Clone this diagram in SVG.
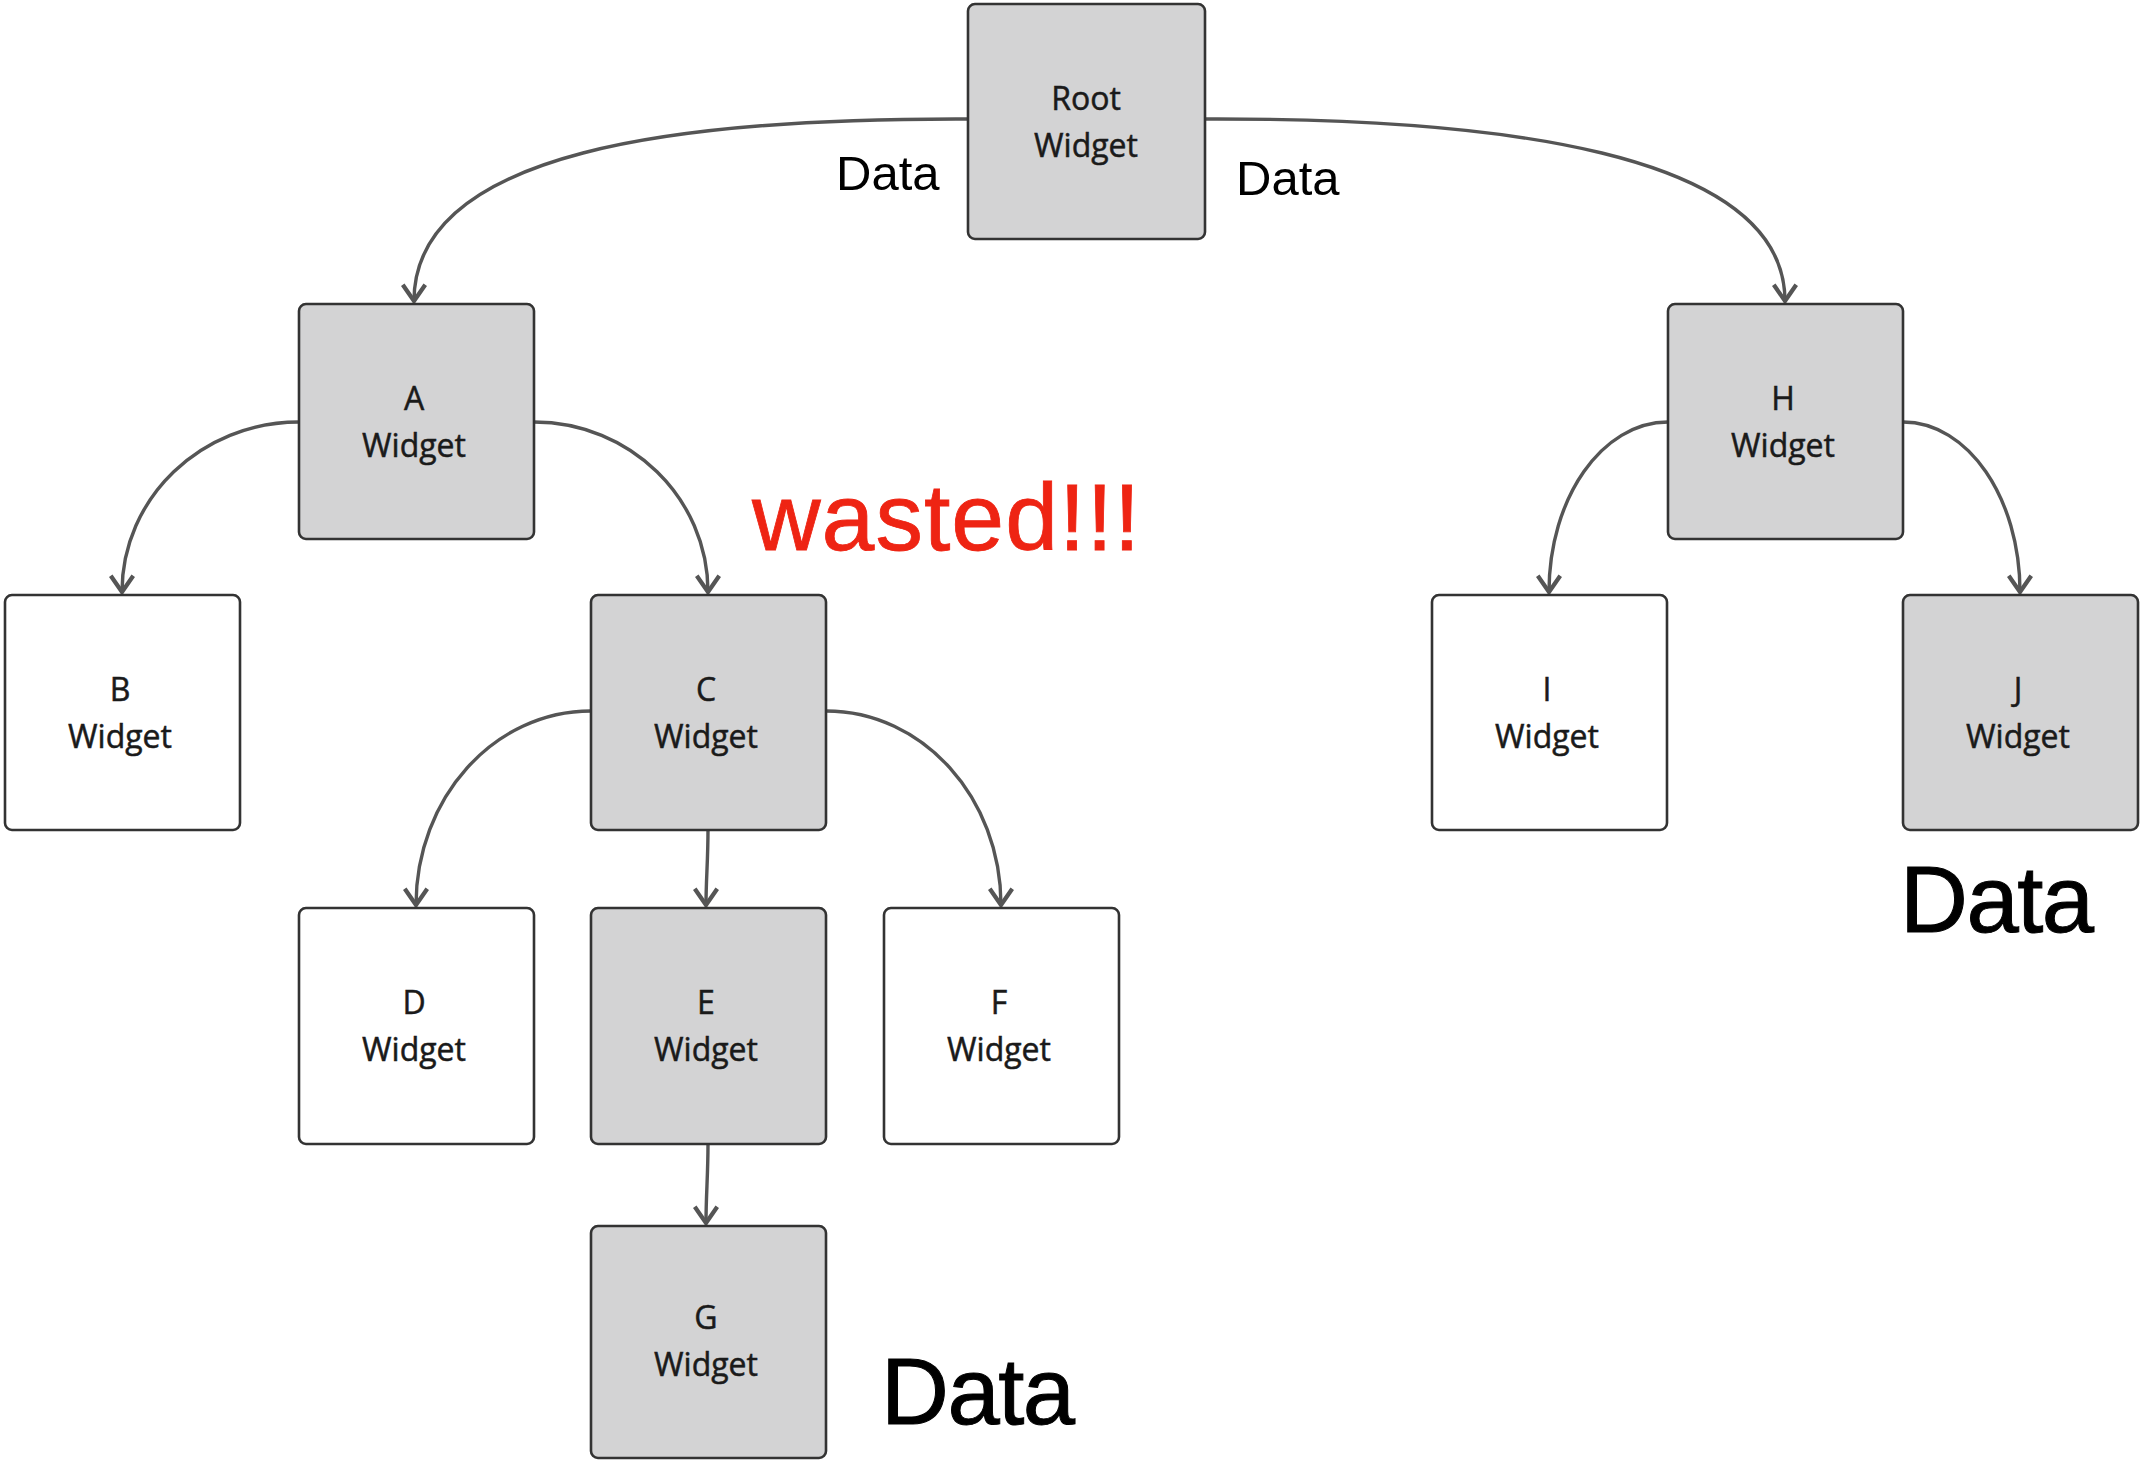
<svg xmlns="http://www.w3.org/2000/svg" width="2140" height="1461" viewBox="0 0 2140 1461">
<defs>
<style>
.box{stroke:#333;stroke-width:2.6}
.on{fill:#d3d3d4}
.off{fill:#fff}
.lbl{font-family:"Open Sans","DejaVu Sans",sans-serif;font-size:32px;fill:#1a1a1a;stroke:#1a1a1a;stroke-width:0.5;text-anchor:middle}
.edge{fill:none;stroke:#555;stroke-width:3.4}
.data{font-family:"Liberation Sans",Arial,sans-serif;fill:#000}
.big{stroke:#000;stroke-width:1}
</style>
<marker id="arr" markerUnits="userSpaceOnUse" markerWidth="30" markerHeight="30" viewBox="-16 -12 18 24" refX="0" refY="0" orient="auto">
<path d="M-13,-9 L0,0 L-13,9" fill="none" stroke="#555" stroke-width="3.4" stroke-linejoin="miter"/>
</marker>
</defs>
<rect width="2140" height="1461" fill="#fff"/>
<g id="connectors">
<path class="edge" marker-end="url(#arr)" d="M968,119 C680,118 414,150 414,301"/>
<path class="edge" marker-end="url(#arr)" d="M1205,119 C1490,118 1785,150 1785,301"/>
<path class="edge" marker-end="url(#arr)" d="M299,422 C201,422 122,498 122,592"/>
<path class="edge" marker-end="url(#arr)" d="M534,422 C630,422 708,498 708,592"/>
<path class="edge" marker-end="url(#arr)" d="M591,711 C494,711 416,798 416,905"/>
<path class="edge" marker-end="url(#arr)" d="M708,830 C708,860 706,880 706,905"/>
<path class="edge" marker-end="url(#arr)" d="M826,711 C923,711 1001,798 1001,905"/>
<path class="edge" marker-end="url(#arr)" d="M708,1144 C708,1175 706,1195 706,1223"/>
<path class="edge" marker-end="url(#arr)" d="M1668,422 C1602,422 1549,498 1549,592"/>
<path class="edge" marker-end="url(#arr)" d="M1903,422 C1968,422 2020,498 2020,592"/>
</g>
<g id="root"><rect class="box on" x="968" y="4" width="237" height="235" rx="7"/><text class="lbl" x="1086" y="110">Root</text><text class="lbl" x="1086" y="157">Widget</text></g>
<g id="a"><rect class="box on" x="299" y="304" width="235" height="235" rx="7"/><text class="lbl" x="414" y="410">A</text><text class="lbl" x="414" y="457">Widget</text></g>
<g id="h"><rect class="box on" x="1668" y="304" width="235" height="235" rx="7"/><text class="lbl" x="1783" y="410">H</text><text class="lbl" x="1783" y="457">Widget</text></g>
<g id="b"><rect class="box off" x="5" y="595" width="235" height="235" rx="7"/><text class="lbl" x="120" y="701">B</text><text class="lbl" x="120" y="748">Widget</text></g>
<g id="c"><rect class="box on" x="591" y="595" width="235" height="235" rx="7"/><text class="lbl" x="706" y="701">C</text><text class="lbl" x="706" y="748">Widget</text></g>
<g id="i"><rect class="box off" x="1432" y="595" width="235" height="235" rx="7"/><text class="lbl" x="1547" y="701">I</text><text class="lbl" x="1547" y="748">Widget</text></g>
<g id="j"><rect class="box on" x="1903" y="595" width="235" height="235" rx="7"/><text class="lbl" x="2018" y="701">J</text><text class="lbl" x="2018" y="748">Widget</text></g>
<g id="d"><rect class="box off" x="299" y="908" width="235" height="236" rx="7"/><text class="lbl" x="414" y="1014">D</text><text class="lbl" x="414" y="1061">Widget</text></g>
<g id="e"><rect class="box on" x="591" y="908" width="235" height="236" rx="7"/><text class="lbl" x="706" y="1014">E</text><text class="lbl" x="706" y="1061">Widget</text></g>
<g id="f"><rect class="box off" x="884" y="908" width="235" height="236" rx="7"/><text class="lbl" x="999" y="1014">F</text><text class="lbl" x="999" y="1061">Widget</text></g>
<g id="g"><rect class="box on" x="591" y="1226" width="235" height="232" rx="7"/><text class="lbl" x="706" y="1329">G</text><text class="lbl" x="706" y="1376">Widget</text></g>
<g id="labels">
<text class="data" x="836" y="190" font-size="49">Data</text>
<text class="data" x="1236" y="195" font-size="49">Data</text>
<text x="752" y="550" font-family="'Liberation Sans',Arial,sans-serif" font-size="95" letter-spacing="1" fill="#ee2413" stroke="#ee2413" stroke-width="0.8">wasted!!!</text>
<text class="data big" x="1900" y="932" font-size="94" letter-spacing="-1.5">Data</text>
<text class="data big" x="881" y="1424" font-size="94" letter-spacing="-1.5">Data</text>
</g>
</svg>
